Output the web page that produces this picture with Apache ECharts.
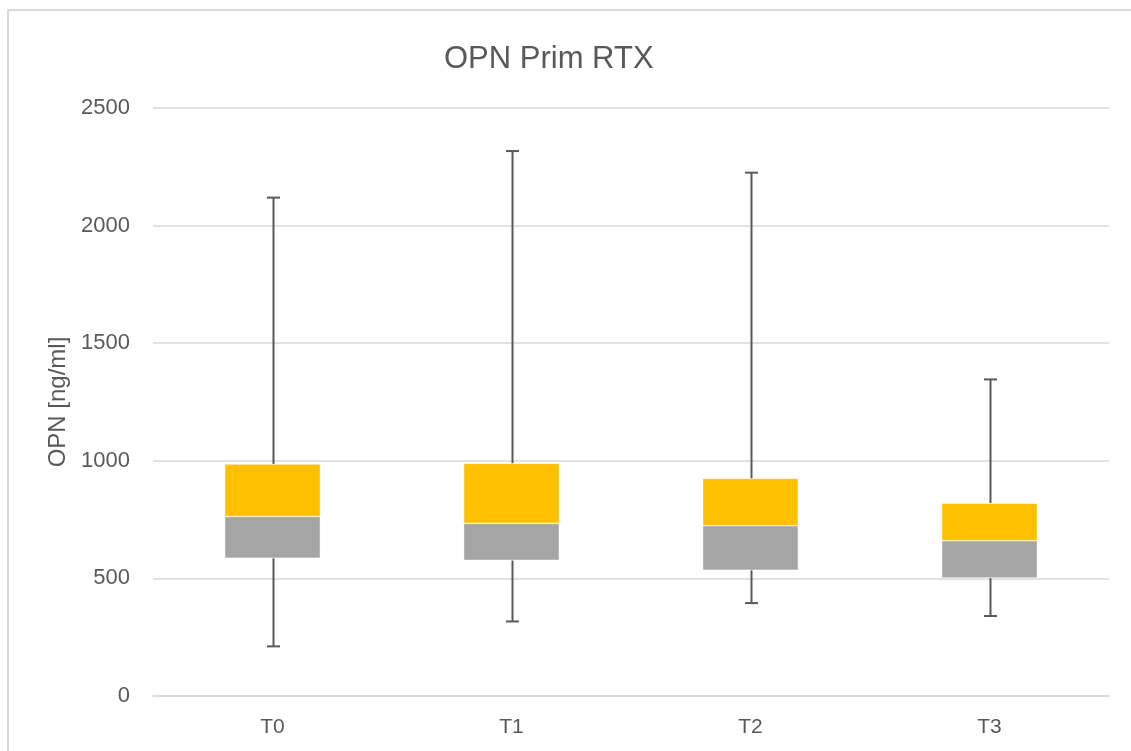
<!DOCTYPE html>
<html>
<head>
<meta charset="utf-8">
<script src="https://cdn.jsdelivr.net/npm/echarts@6/dist/echarts.min.js"></script>
<style>
html,body{margin:0;padding:0;background:#fff;overflow:hidden;}
#chart{width:1131px;height:751px;}
</style>
</head>
<body>
<div id="chart"></div>
<script>
const categories = ['T0', 'T1', 'T2', 'T3'];
const minVals = [211, 317, 395, 340];
const q1Vals = [586, 577, 535, 502];
const medianVals = [763, 734, 724, 660];
const q3Vals = [986, 989, 925, 820];
const maxVals = [2119, 2317, 2225, 1346];
const yTicks = [0, 500, 1000, 1500, 2000, 2500];

const lowerBox = q1Vals.map((q, i) => medianVals[i] - q);
const upperBox = q3Vals.map((q, i) => q - medianVals[i]);
const whiskerData = categories.map((c, i) => [i, minVals[i], q1Vals[i], q3Vals[i], maxVals[i]]);

const FONT = 'Liberation Sans';
const TXT = '#595959';

const chart = echarts.init(document.getElementById('chart'));
chart.setOption({
  backgroundColor: '#ffffff',
  animation: false,
  title: {
    text: 'OPN Prim RTX',
    left: 439,
    top: 39,
    textStyle: { fontFamily: FONT, fontSize: 31, fontWeight: 'normal', color: TXT }
  },
  graphic: [
    { type: 'polyline', shape: { points: [[8, 751], [8, 10], [1131, 10]] }, style: { stroke: '#d9d9d9', lineWidth: 2, fill: null }, silent: true }
  ],
  grid: { left: 153, right: 22, top: 108, bottom: 55 },
  xAxis: {
    type: 'category',
    data: categories,
    axisLine: { show: true, lineStyle: { color: '#d9d9d9', width: 1.5 } },
    axisTick: { show: false },
    axisLabel: { fontFamily: FONT, fontSize: 21, color: TXT, margin: 21 }
  },
  yAxis: {
    type: 'value',
    min: yTicks[0],
    max: yTicks[yTicks.length - 1],
    interval: 500,
    name: 'OPN [ng/ml]',
    nameLocation: 'middle',
    nameGap: 82,
    nameTextStyle: { fontFamily: FONT, fontSize: 24, color: TXT },
    axisLine: { show: false },
    axisTick: { show: false },
    splitLine: { lineStyle: { color: '#d9d9d9', width: 1.5 } },
    axisLabel: { fontFamily: FONT, fontSize: 22, color: TXT, margin: 23, formatter: function (v) { return String(v); } }
  },
  series: [
    {
      type: 'custom',
      z: 1,
      renderItem: function (params, api) {
        const x = api.value(0);
        const pMin = api.coord([x, api.value(1)]);
        const pQ1 = api.coord([x, api.value(2)]);
        const pQ3 = api.coord([x, api.value(3)]);
        const pMax = api.coord([x, api.value(4)]);
        const cx = Math.round(pMin[0]) + 0.5;
        const hw = 6.5;
        const st = { stroke: '#595959', lineWidth: 2 };
        return {
          type: 'group',
          children: [
            { type: 'line', shape: { x1: cx, y1: pMin[1], x2: cx, y2: pQ1[1] }, style: st },
            { type: 'line', shape: { x1: cx, y1: pQ3[1], x2: cx, y2: pMax[1] }, style: st },
            { type: 'line', shape: { x1: cx - hw, y1: pMin[1], x2: cx + hw, y2: pMin[1] }, style: st },
            { type: 'line', shape: { x1: cx - hw, y1: pMax[1], x2: cx + hw, y2: pMax[1] }, style: st }
          ]
        };
      },
      encode: { x: 0, y: [1, 2, 3, 4] },
      data: whiskerData
    },
    {
      type: 'bar',
      stack: 'box',
      barWidth: '40%',
      z: 2,
      itemStyle: { color: 'rgba(0,0,0,0)' },
      data: q1Vals
    },
    {
      type: 'bar',
      stack: 'box',
      z: 2,
      itemStyle: { color: '#A5A5A5', borderColor: '#ffffff', borderWidth: 0.5 },
      data: lowerBox
    },
    {
      type: 'bar',
      stack: 'box',
      z: 2,
      itemStyle: { color: '#FFC000', borderColor: '#ffffff', borderWidth: 0.5 },
      data: upperBox
    }
  ]
});
</script>
</body>
</html>
